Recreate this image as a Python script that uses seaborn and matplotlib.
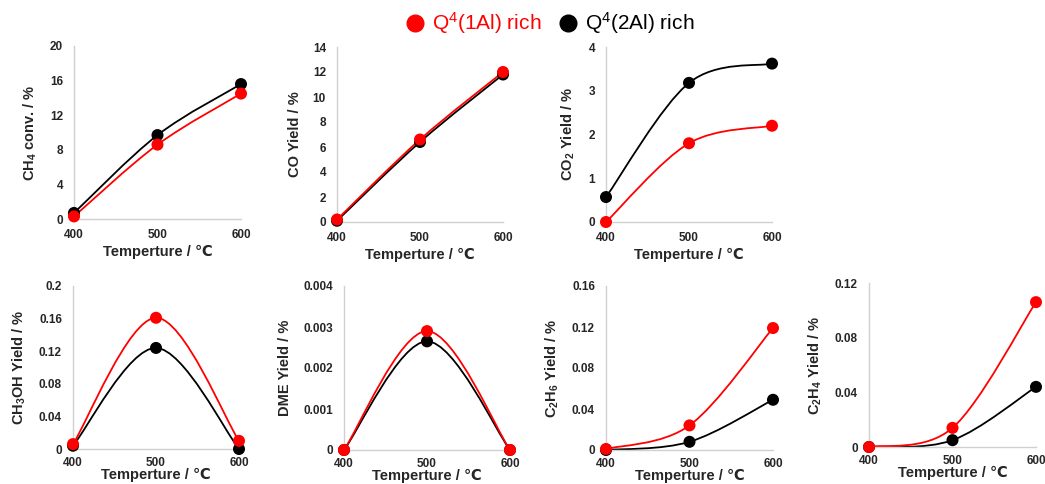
import numpy as np
import pandas as pd
import matplotlib
matplotlib.use("Agg")
import matplotlib.pyplot as plt
from matplotlib.path import Path
from matplotlib.patches import PathPatch
from matplotlib.lines import Line2D
import seaborn as sns

# Datos
temp = [400, 500, 600]

ch4_1al = [0.3, 8.6, 14.5]
ch4_2al = [0.7, 9.7, 15.6]
co_1al = [0.2, 6.6, 12.0]
co_2al = [0.1, 6.4, 11.8]
co2_1al = [0.0, 1.8, 2.2]
co2_2al = [0.57, 3.18, 3.62]
ch3oh_1al = [0.006, 0.161, 0.010]
ch3oh_2al = [0.004, 0.124, 0.0]
dme_1al = [0.0, 0.0029, 0.0]
dme_2al = [0.0, 0.00265, 0.0]
c2h6_1al = [0.001, 0.024, 0.119]
c2h6_2al = [0.0, 0.008, 0.049]
c2h4_1al = [0.0, 0.014, 0.106]
c2h4_2al = [0.0, 0.005, 0.044]

labels = ["Q$^4$(1Al) rich", "Q$^4$(2Al) rich"]
colors = ["#FF0000", "black"]

sns.set_style("white")
plt.rcParams["font.family"] = ["Liberation Sans", "DejaVu Sans"]
plt.rcParams["mathtext.fontset"] = "custom"
plt.rcParams["mathtext.rm"] = "Liberation Sans"
plt.rcParams["mathtext.bf"] = "Liberation Sans:bold"
plt.rcParams["mathtext.default"] = "rm"

fig = plt.figure(figsize=(10.45, 4.84), dpi=100)

W, H = 1045, 484
# (left, top, right, bottom) en pixeles
paneles = [
    ("CH$_\\mathbf{4}$ conv. / %", ch4_1al, ch4_2al, 20, 4, (74, 46, 241, 219)),
    ("CO Yield / %", co_1al, co_2al, 14, 2, (337, 47, 503, 222)),
    ("CO$_\\mathbf{2}$ Yield / %", co2_1al, co2_2al, 4, 1, (606, 47, 772, 222)),
    ("CH$_\\mathbf{3}$OH Yield / %", ch3oh_1al, ch3oh_2al, 0.2, 0.04, (73, 286, 239, 449)),
    ("DME Yield / %", dme_1al, dme_2al, 0.004, 0.001, (344, 286, 510, 450)),
    ("C$_\\mathbf{2}$H$_\\mathbf{6}$ Yield / %", c2h6_1al, c2h6_2al, 0.16, 0.04, (606, 286, 773, 450)),
    ("C$_\\mathbf{2}$H$_\\mathbf{4}$ Yield / %", c2h4_1al, c2h4_2al, 0.12, 0.04, (869, 283, 1036, 447)),
]


def curva_suave(ax, x, y, color):
    # curva tipo Excel (Bezier cubica con tension 1/6)
    x = np.asarray(x, float)
    y = np.asarray(y, float)
    px = np.concatenate([[x[0]], x, [x[-1]]])
    py = np.concatenate([[y[0]], y, [y[-1]]])
    verts = [(x[0], y[0])]
    codes = [Path.MOVETO]
    for i in range(1, len(px) - 2):
        c1 = (px[i] + (px[i + 1] - px[i - 1]) / 6, py[i] + (py[i + 1] - py[i - 1]) / 6)
        c2 = (px[i + 1] - (px[i + 2] - px[i]) / 6, py[i + 1] - (py[i + 2] - py[i]) / 6)
        verts += [c1, c2, (px[i + 1], py[i + 1])]
        codes += [Path.CURVE4] * 3
    ax.add_patch(PathPatch(Path(verts, codes), facecolor="none", edgecolor=color,
                           lw=1.3, clip_on=False, zorder=2))


for k, (ylabel, s1, s2, ymax, step, (l, t, r, b)) in enumerate(paneles):
    ax = fig.add_axes([l / W, 1 - b / H, (r - l) / W, (b - t) / H])
    df = pd.DataFrame({
        "T": temp * 2,
        "y": s2 + s1,
        "serie": [labels[1]] * 3 + [labels[0]] * 3,
    })
    curva_suave(ax, temp, s2, colors[1])
    curva_suave(ax, temp, s1, colors[0])
    sns.scatterplot(data=df, x="T", y="y", hue="serie", palette={labels[0]: colors[0], labels[1]: colors[1]},
                    s=75, edgecolor="none", legend=False, ax=ax, clip_on=False, zorder=3)
    ax.set_xlim(400, 600)
    ax.set_ylim(0, ymax)
    ax.set_xticks(temp)
    yt = np.arange(0, ymax + step / 2, step)
    ax.set_yticks(yt)
    ax.set_yticklabels([f"{round(v, 6):g}" for v in yt])
    ax.tick_params(axis="both", length=0, labelsize=8.5)
    ax.tick_params(axis="y", pad=8)
    fila_baja = k >= 3
    ax.tick_params(axis="x", pad=6 if fila_baja else 7)
    for lab in ax.get_xticklabels() + ax.get_yticklabels():
        lab.set_fontweight("bold")
    ax.set_xlabel("Temperture / \u2103", fontsize=10.5, fontweight="bold",
                  labelpad=-1 if fila_baja else 3)
    ax.set_ylabel(ylabel, fontsize=10.5, fontweight="bold", labelpad=8)
    sns.despine(ax=ax)
    for lado in ["left", "bottom"]:
        ax.spines[lado].set_color("#D0D0D0")
        ax.spines[lado].set_linewidth(1.0)

handles = [Line2D([], [], marker="o", ls="none", color=c, markersize=12) for c in colors]
fig.legend(handles, labels, loc="center", bbox_to_anchor=(0.521, 0.952), ncol=2, frameon=False,
           fontsize=15, handletextpad=-0.2, columnspacing=0.3, labelcolor=colors)

fig.savefig("out.png", dpi=100)
